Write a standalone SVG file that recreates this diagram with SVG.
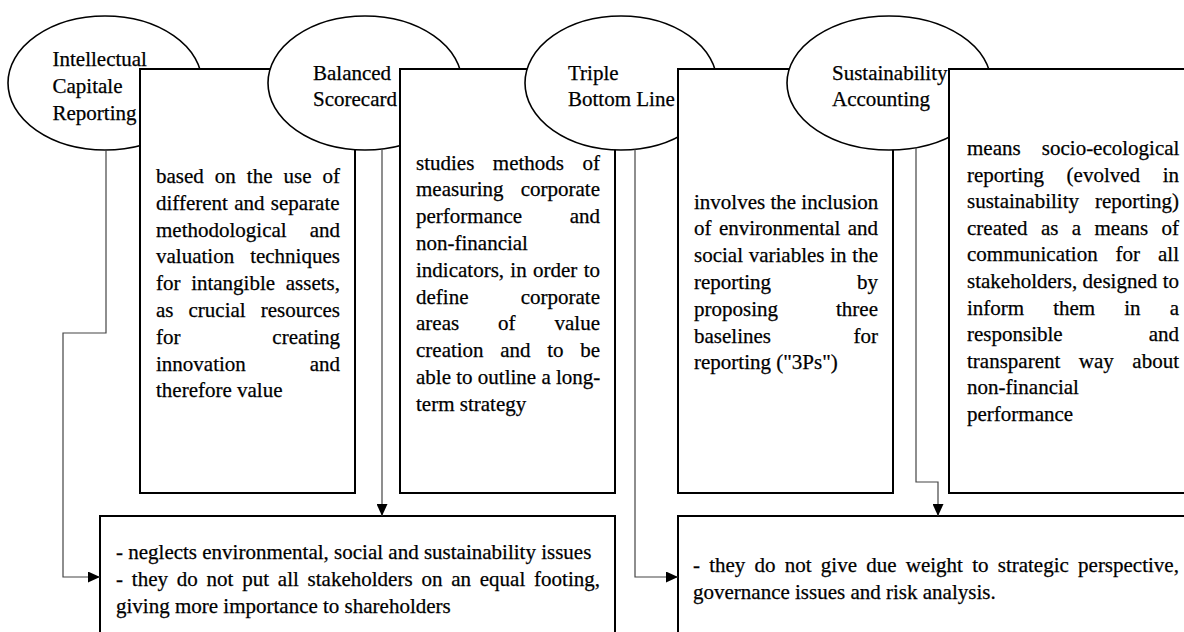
<svg xmlns="http://www.w3.org/2000/svg" width="1184" height="632" viewBox="0 0 1184 632">
<defs>
<style>
.t{font-family:"Liberation Serif","Times New Roman",serif;font-size:21px;fill:#000;stroke:#000;stroke-width:0.25}
.el{fill:#fff;stroke:#000;stroke-width:1.6}
.bx{fill:#fff;stroke:#000;stroke-width:2}
.cn{fill:none;stroke:#444;stroke-width:1.2}
</style>
<marker id="arr" markerUnits="userSpaceOnUse" markerWidth="12" markerHeight="11" refX="12" refY="5.5" orient="auto">
<path d="M0,0 L12,5.5 L0,11 z" fill="#000"/>
</marker>
</defs>
<rect width="1184" height="632" fill="#fff"/>

<g id="node-icr">
<ellipse class="el" cx="105" cy="83" rx="97" ry="67"/>
<text class="t"><tspan x="52.5" y="66">Intellectual</tspan><tspan x="52.5" y="92.8">Capitale</tspan><tspan x="52.5" y="119.6">Reporting</tspan></text>
</g>
<g id="box-icr">
<rect class="bx" x="140" y="69" width="215" height="424"/>
<text class="t">
<tspan x="156" y="183" word-spacing="5.76">based on the use of</tspan>
<tspan x="156" y="209.8" word-spacing="1.04">different and separate</tspan>
<tspan x="156" y="236.6" word-spacing="17.76">methodological and</tspan>
<tspan x="156" y="263.4" word-spacing="10.75">valuation techniques</tspan>
<tspan x="156" y="290.2" word-spacing="5.39">for intangible assets,</tspan>
<tspan x="156" y="317" word-spacing="9.79">as crucial resources</tspan>
<tspan x="156" y="343.8" word-spacing="86.6">for creating</tspan>
<tspan x="156" y="370.6" word-spacing="58.6">innovation and</tspan>
<tspan x="156" y="397.4">therefore value</tspan>
</text>
</g>

<g id="node-bsc">
<ellipse class="el" cx="365" cy="83" rx="97" ry="67"/>
<text class="t"><tspan x="313" y="79.5">Balanced</tspan><tspan x="313" y="106.3">Scorecard</tspan></text>
</g>
<g id="box-bsc">
<rect class="bx" x="400" y="69" width="215" height="424"/>
<text class="t">
<tspan x="416" y="169.5" word-spacing="13.25">studies methods of</tspan>
<tspan x="416" y="196.3" word-spacing="11.97">measuring corporate</tspan>
<tspan x="416" y="223.1" word-spacing="42.3">performance and</tspan>
<tspan x="416" y="249.9">non-financial</tspan>
<tspan x="416" y="276.7" word-spacing="1.06">indicators, in order to</tspan>
<tspan x="416" y="303.5" word-spacing="46.97">define corporate</tspan>
<tspan x="416" y="330.3" word-spacing="33.7">areas of value</tspan>
<tspan x="416" y="357.1" word-spacing="11.37">creation and to be</tspan>
<tspan x="416" y="383.9">able to outline a long-</tspan>
<tspan x="416" y="410.7">term strategy</tspan>
</text>
</g>

<g id="node-tbl">
<ellipse class="el" cx="621" cy="83" rx="96" ry="67"/>
<text class="t"><tspan x="568" y="79.5">Triple</tspan><tspan x="568" y="106.3">Bottom Line</tspan></text>
</g>
<g id="box-tbl">
<rect class="bx" x="678" y="69" width="215" height="424"/>
<text class="t">
<tspan x="694" y="208.5">involves the inclusion</tspan>
<tspan x="694" y="235.3" word-spacing="2.18">of environmental and</tspan>
<tspan x="694" y="262.1" word-spacing="0.48">social variables in the</tspan>
<tspan x="694" y="288.9" word-spacing="80.76">reporting by</tspan>
<tspan x="694" y="315.7" word-spacing="52.79">proposing three</tspan>
<tspan x="694" y="342.5" word-spacing="77.28">baselines for</tspan>
<tspan x="694" y="369.3">reporting ("3Ps")</tspan>
</text>
</g>

<g id="node-sa">
<ellipse class="el" cx="889" cy="83" rx="102" ry="67"/>
<text class="t"><tspan x="832" y="79.5">Sustainability</tspan><tspan x="832" y="106.3">Accounting</tspan></text>
</g>
<g id="box-sa">
<rect class="bx" x="949" y="69" width="260" height="424"/>
<text class="t">
<tspan x="967" y="155" word-spacing="15.9">means socio-ecological</tspan>
<tspan x="967" y="181.6" word-spacing="17.35">reporting (evolved in</tspan>
<tspan x="967" y="208.2" word-spacing="10.76">sustainability reporting)</tspan>
<tspan x="967" y="234.8" word-spacing="8.1">created as a means of</tspan>
<tspan x="967" y="261.4" word-spacing="12.68">communication for all</tspan>
<tspan x="967" y="288" word-spacing="0.14">stakeholders, designed to</tspan>
<tspan x="967" y="314.6" word-spacing="23.81">inform them in a</tspan>
<tspan x="967" y="341.2" word-spacing="80.77">responsible and</tspan>
<tspan x="967" y="367.8" word-spacing="13.27">transparent way about</tspan>
<tspan x="967" y="394.4">non-financial</tspan>
<tspan x="967" y="421">performance</tspan>
</text>
</g>

<g id="box-limits-1">
<rect class="bx" x="100" y="516" width="515" height="150"/>
<text class="t">
<tspan x="116" y="559">- neglects environmental, social and sustainability issues</tspan>
<tspan x="116" y="585.8" word-spacing="3.55">- they do not put all stakeholders on an equal footing,</tspan>
<tspan x="116" y="612.6">giving more importance to shareholders</tspan>
</text>
</g>

<g id="box-limits-2">
<rect class="bx" x="678" y="516" width="530" height="150"/>
<text class="t">
<tspan x="693" y="572" word-spacing="3.97">- they do not give due weight to strategic perspective,</tspan>
<tspan x="693" y="598.5">governance issues and risk analysis.</tspan>
</text>
</g>

<g id="connectors">
<path class="cn" d="M106,150 V333 H63 V577 H100" marker-end="url(#arr)"/>
<path class="cn" d="M382,149 V516" marker-end="url(#arr)"/>
<path class="cn" d="M635,149.3 V577 H678" marker-end="url(#arr)"/>
<path class="cn" d="M916,147.6 V482 H938 V516" marker-end="url(#arr)"/>
</g>
</svg>
